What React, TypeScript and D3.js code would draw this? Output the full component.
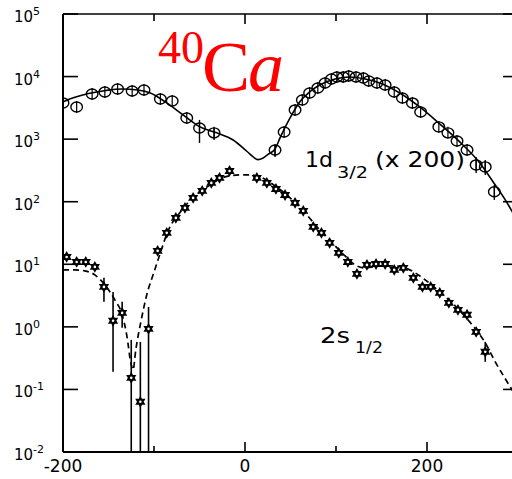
import React from "react";
import * as d3 from "d3";

// ---- data ----
// 1d3/2 (x 200) measured points
const d1x = [-200, -185, -168, -154, -140, -124, -111, -93, -80, -64, -50, -34, 33, 43, 55, 63, 71, 80, 88, 95, 101, 108, 114, 122, 130, 136, 145, 154, 164, 173, 184, 193, 213, 223, 233, 244, 254, 264, 274];
const d1y = [3790, 3270, 5270, 5680, 6340, 5890, 6110, 4390, 4070, 2180, 1510, 1260, 671, 1300, 2930, 4230, 5470, 6580, 7900, 9160, 9860, 9860, 10230, 9860, 9500, 8500, 7900, 7340, 5680, 4550, 3790, 2720, 1570, 1260, 935, 671, 387, 360, 144];
const d1ErrX = [-50, -34, 33, 254, 264, 274];
const d1ErrHi = [2030, 1510, 807, 520, 466, 185];
const d1ErrLo = [869, 970, 520, 288, 268, 107];

// 1d3/2 calculation (solid)
const c1x = [-200, -186, -172, -153, -135, -118, -104, -86, -68, -49.5, -31, -13, 2, 9, 14, 20, 26, 33, 38.5, 49.5, 60, 71, 82, 99, 115, 132, 148, 170, 192, 214, 236, 258, 275, 286, 297];
const c1y = [3950, 4700, 5350, 6000, 6340, 6100, 5470, 3790, 2440, 1570, 1260, 970, 640, 520, 470, 500, 580, 697, 1045, 2180, 3930, 5680, 7340, 9160, 9860, 9160, 7900, 5470, 3270, 1750, 902, 417, 185, 107, 57];

// 2s1/2 measured points
const d2x = [-196, -185, -175, -165, -155, -145, -135, -125, -115, -106, -96, -86, -76, -66, -57, -47, -37, -28, -17, 13, 24, 34, 44, 55, 64, 75, 84, 93, 103, 113, 123, 134, 144, 154, 164, 174, 185, 195, 204, 214, 224, 234, 244, 254, 264];
const d2y = [13.1, 10.9, 10.9, 9.08, 4.35, 1.25, 1.67, 0.153, 0.0634, 0.929, 16.4, 31.8, 55.1, 79.6, 115, 149, 200, 240, 310, 240, 200, 160, 128, 95.7, 71.3, 39.6, 31.8, 22, 15.2, 10.9, 7.03, 9.77, 10.1, 10.1, 8.14, 8.75, 6.07, 4.35, 4.35, 3.49, 2.42, 1.87, 1.56, 0.832, 0.399];
const d2ErrX = [-155, -145, -135, -125, -115, -106, 264];
const d2ErrHi = [6.07, 3.62, 2.51, 0.62, 0.575, 2.08, 0.575];
const d2ErrLo = [2.51, 0.191, 0.964, 0.01, 0.01, 0.01, 0.276];

// 2s1/2 calculation (dashed)
const c2x = [-200, -187, -176, -165, -154, -143, -135, -130, -125, -123, -120, -114, -108, -101, -93, -85, -71, -55, -38.5, -22, -5.5, 5.5, 19, 33, 49.5, 66, 82, 99, 110, 121, 132, 148, 165, 181, 198, 214, 231, 247, 264, 275, 286, 297];
const c2y = [8.14, 8.14, 7.85, 6.78, 4.69, 2.7, 1.56, 0.745, 0.247, 0.206, 0.43, 1.29, 3.24, 6.78, 15.2, 33, 68.7, 124, 185, 249, 268, 268, 240, 179, 115, 66.2, 35.5, 19.7, 13.6, 9.77, 8.75, 9.42, 9.42, 8.14, 5.64, 3.62, 2.16, 1.2, 0.555, 0.276, 0.148, 0.082];

// axes
const yExponents = [5, 4, 3, 2, 1, 0, -1, -2];
const xMajorTicks = [-200, 0, 200];
const xMinorTicks = [-100, 100];
const xDomain = [-200, 300];
const yDomain = [1e-2, 1e5];

const FONT = "'DejaVu Sans', Arial, sans-serif";
const SERIF = "'Liberation Serif', 'DejaVu Serif', serif";

function hexagram(cx: number, cy: number, R: number) {
  const pt = (a: number) => [cx + R * Math.cos((a * Math.PI) / 180), cy + R * Math.sin((a * Math.PI) / 180)];
  const tri = (angles: number[]) =>
    "M" + angles.map((a) => pt(a).map((v) => v.toFixed(2)).join(",")).join("L") + "Z";
  return tri([-90, 30, 150]) + tri([90, 210, 330]);
}

export default function App() {
  const W = 512;
  const H = 479;
  const left = 63;
  const top = 14;
  const bottom = 452;
  const x = d3.scaleLinear().domain(xDomain).range([left, left + 500 * 0.91]);
  const y = d3.scaleLog().domain(yDomain).range([bottom, top]);
  const right = x(300);

  const line = d3
    .line<[number, number]>()
    .x((d) => x(d[0]))
    .y((d) => y(d[1]))
    .curve(d3.curveMonotoneX);

  const c1 = line(c1x.map((v, i) => [v, c1y[i]]) as [number, number][]) || "";
  const c2 = line(c2x.map((v, i) => [v, c2y[i]]) as [number, number][]) || "";

  return (
    <svg
      width={W}
      height={H}
      style={{ position: "absolute", left: 0, top: 0, background: "#fff" }}
      fontFamily={FONT}
    >
      <defs>
        <clipPath id="plot">
          <rect x={left} y={top} width={right - left} height={bottom - top} />
        </clipPath>
      </defs>
      <rect x={0} y={0} width={W} height={H} fill="#fff" />

      {/* curves */}
      <g clipPath="url(#plot)">
        <path d={c1} fill="none" stroke="#000" strokeWidth={1.6} />
        <path d={c2} fill="none" stroke="#000" strokeWidth={1.7} strokeDasharray="6,4" />

        {/* 2s error bars */}
        {d2ErrX.map((v, i) => (
          <line key={"e2" + i} x1={x(v)} x2={x(v)} y1={y(d2ErrHi[i])} y2={y(d2ErrLo[i])} stroke="#000" strokeWidth={1.6} />
        ))}
        {/* 1d error bars */}
        {d1ErrX.map((v, i) => (
          <line key={"e1" + i} x1={x(v)} x2={x(v)} y1={y(d1ErrHi[i])} y2={y(d1ErrLo[i])} stroke="#000" strokeWidth={1.4} />
        ))}

        {/* 1d circles */}
        {d1x.map((v, i) => (
          <g key={"p1" + i}>
            <ellipse cx={x(v)} cy={y(d1y[i])} rx={5.8} ry={5} fill="none" stroke="#000" strokeWidth={1.4} />
            <line x1={x(v)} x2={x(v)} y1={y(d1y[i]) - 6} y2={y(d1y[i]) + 6} stroke="#000" strokeWidth={1.2} />
          </g>
        ))}

        {/* 2s stars */}
        {d2x.map((v, i) => (
          <g key={"p2" + i}>
            <path d={hexagram(x(v), y(d2y[i]), 5.9)} fill="#000" />
            <circle cx={x(v)} cy={y(d2y[i])} r={1.3} fill="#fff" />
          </g>
        ))}
      </g>

      {/* frame */}
      <line x1={left} x2={left} y1={top} y2={bottom} stroke="#000" strokeWidth={2} />
      <line x1={left} x2={right} y1={bottom} y2={bottom} stroke="#000" strokeWidth={2} />
      <line x1={left} x2={right} y1={top} y2={top} stroke="#000" strokeWidth={1.5} />
      <line x1={right} x2={right} y1={top} y2={bottom} stroke="#000" strokeWidth={2} />

      {/* y ticks and labels */}
      {yExponents.map((e) => {
        const yy = y(Math.pow(10, e));
        return (
          <g key={"yt" + e}>
            <line x1={left} x2={left + 15} y1={yy} y2={yy} stroke="#000" strokeWidth={1.6} />
            <line x1={right} x2={right - 15} y1={yy} y2={yy} stroke="#000" strokeWidth={1.6} />
            <text x={14} y={yy + 8} fontSize={15} fill="#000">
              10
              <tspan dy={-7} fontSize={11}>
                {e}
              </tspan>
            </text>
          </g>
        );
      })}

      {/* x ticks */}
      {xMajorTicks.map((v) => (
        <g key={"xt" + v}>
          <line x1={x(v)} x2={x(v)} y1={bottom} y2={bottom - 10} stroke="#000" strokeWidth={1.6} />
          <line x1={x(v)} x2={x(v)} y1={top} y2={top + 10} stroke="#000" strokeWidth={1.6} />
          <text x={x(v)} y={472} fontSize={17} textAnchor="middle" fill="#000">
            {v}
          </text>
        </g>
      ))}
      {xMinorTicks.map((v) => (
        <g key={"xm" + v}>
          <line x1={x(v)} x2={x(v)} y1={bottom} y2={bottom - 6} stroke="#000" strokeWidth={1.6} />
          <line x1={x(v)} x2={x(v)} y1={top} y2={top + 7} stroke="#000" strokeWidth={1.6} />
        </g>
      ))}

      {/* curve labels */}
      <text x={305} y={167} fontSize={22} fill="#000" textLength={28} lengthAdjust="spacingAndGlyphs">1d</text>
      <text x={337} y={178} fontSize={15} fill="#000" textLength={31} lengthAdjust="spacingAndGlyphs">3/2</text>
      <text x={375} y={167} fontSize={22} fill="#000" textLength={90} lengthAdjust="spacingAndGlyphs">(x 200)</text>

      <text x={320} y={343} fontSize={22} fill="#000" textLength={30} lengthAdjust="spacingAndGlyphs">2s</text>
      <text x={355} y={353} fontSize={16} fill="#000" textLength={28} lengthAdjust="spacingAndGlyphs">1/2</text>

      {/* title */}
      <text x={158} y={63} fontSize={46} fill="#ff0000" fontFamily={SERIF}>40</text>
      <text x={202} y={91} fontSize={72} fill="#ff0000" fontFamily={SERIF} fontStyle="normal">
        <tspan fontStyle="normal">C</tspan>
        <tspan fontStyle="italic" dx={-2}>a</tspan>
      </text>
    </svg>
  );
}
